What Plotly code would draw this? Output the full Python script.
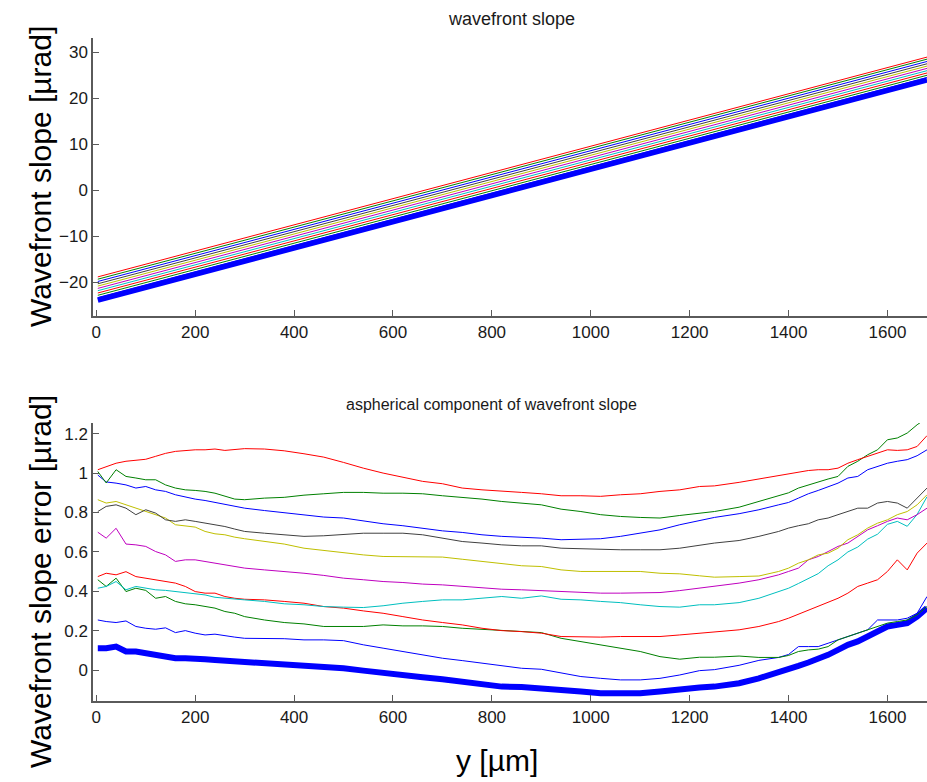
import plotly.graph_objects as go

# ---------------- data ----------------
# top panel: straight lines, value at start and end of the y range
TOP_X = [3, 1680]
TOP_B0 = [-23.85, 24.0]
TOP_B1 = [-23.3, 24.5]
TOP_G2 = [-22.8, 25.0]
TOP_R3 = [-22.3, 25.5]
TOP_C4 = [-21.8, 26.0]
TOP_M5 = [-21.3, 26.5]
TOP_Y6 = [-20.8, 27.0]
TOP_K7 = [-20.3, 27.5]
TOP_B8 = [-19.8, 28.0]
TOP_G9 = [-19.3, 28.5]
TOP_R10 = [-18.8, 28.95]

# bottom panel: aspherical component
X_UM = [3, 20, 40, 60, 80, 100, 120, 140, 160, 180, 200, 220, 240, 260, 280, 300,
        340, 380, 420, 460, 500, 540, 580, 620, 660, 700, 740, 780, 820,
        860, 900, 940, 980, 1020, 1060, 1100, 1140, 1180, 1220, 1250,
        1300, 1340, 1380, 1400, 1420, 1440, 1460, 1480, 1500, 1520, 1540,
        1560, 1580, 1600, 1620, 1640, 1660, 1680]

ASP_R10 = [1.017, 1.034, 1.05, 1.06, 1.064, 1.07, 1.085, 1.10, 1.11, 1.115, 1.118, 1.118, 1.122, 1.115, 1.118, 1.124,
           1.122, 1.113, 1.098, 1.081, 1.054, 1.025, 1.0, 0.98, 0.958, 0.946, 0.924, 0.915, 0.907,
           0.902, 0.895, 0.885, 0.885, 0.882, 0.89, 0.895, 0.907, 0.915, 0.932, 0.935,
           0.953, 0.97, 0.986, 0.995, 1.003, 1.013, 1.017, 1.017, 1.025, 1.05, 1.068,
           1.085, 1.10, 1.118, 1.115, 1.118, 1.135, 1.19]
ASP_G9 = [1.008, 0.95, 1.017, 0.983, 0.975, 0.966, 0.966, 0.94, 0.924, 0.915, 0.912, 0.907, 0.898, 0.882, 0.868, 0.865,
          0.873, 0.877, 0.888, 0.895, 0.902, 0.902, 0.898, 0.898, 0.895, 0.885, 0.877, 0.868, 0.856,
          0.848, 0.839, 0.817, 0.805, 0.789, 0.78, 0.775, 0.772, 0.785, 0.797, 0.805,
          0.827, 0.856, 0.885, 0.90, 0.924, 0.94, 0.958, 0.97, 0.983, 1.034, 1.06,
          1.093, 1.118, 1.169, 1.178, 1.203, 1.245, 1.28]
ASP_B8 = [0.99, 0.955, 0.949, 0.94, 0.924, 0.932, 0.915, 0.907, 0.89, 0.878, 0.868, 0.861, 0.851, 0.839, 0.831, 0.822,
          0.81, 0.80, 0.789, 0.777, 0.772, 0.758, 0.743, 0.733, 0.721, 0.707, 0.699, 0.687, 0.679,
          0.675, 0.67, 0.662, 0.665, 0.667, 0.679, 0.695, 0.712, 0.738, 0.758, 0.775,
          0.794, 0.814, 0.839, 0.851, 0.873, 0.895, 0.912, 0.932, 0.949, 0.975, 0.983,
          1.017, 1.034, 1.05, 1.06, 1.068, 1.088, 1.118]
ASP_K7 = [0.805, 0.831, 0.839, 0.822, 0.789, 0.814, 0.797, 0.763, 0.755, 0.763, 0.755, 0.746, 0.738, 0.729, 0.716, 0.704,
          0.695, 0.687, 0.679, 0.682, 0.69, 0.695, 0.695, 0.695, 0.687, 0.67, 0.653, 0.645, 0.636,
          0.631, 0.631, 0.619, 0.616, 0.611, 0.611, 0.611, 0.611, 0.619, 0.636, 0.645,
          0.658, 0.679, 0.704, 0.721, 0.733, 0.743, 0.763, 0.772, 0.789, 0.805, 0.822,
          0.822, 0.848, 0.856, 0.848, 0.822, 0.873, 0.924]
ASP_Y6 = [0.865, 0.848, 0.856, 0.839, 0.822, 0.805, 0.789, 0.772, 0.738, 0.733, 0.726, 0.704, 0.692, 0.687, 0.675, 0.667,
          0.653, 0.64, 0.619, 0.607, 0.597, 0.585, 0.577, 0.577, 0.577, 0.574, 0.563, 0.552, 0.54,
          0.53, 0.526, 0.509, 0.501, 0.501, 0.501, 0.501, 0.492, 0.489, 0.479, 0.472,
          0.475, 0.478, 0.501, 0.518, 0.543, 0.56, 0.585, 0.594, 0.619, 0.662, 0.687,
          0.721, 0.746, 0.763, 0.789, 0.805, 0.839, 0.89]
ASP_M5 = [0.70, 0.67, 0.72, 0.64, 0.636, 0.628, 0.602, 0.585, 0.552, 0.56, 0.56, 0.552, 0.543, 0.535, 0.526, 0.518,
          0.509, 0.501, 0.492, 0.481, 0.467, 0.459, 0.45, 0.445, 0.437, 0.433, 0.425, 0.416, 0.411,
          0.408, 0.404, 0.399, 0.394, 0.391, 0.391, 0.391, 0.394, 0.404, 0.416, 0.425,
          0.442, 0.459, 0.484, 0.501, 0.518, 0.56, 0.577, 0.602, 0.628, 0.645, 0.679,
          0.712, 0.733, 0.755, 0.772, 0.763, 0.789, 0.822]
ASP_C4 = [0.416, 0.425, 0.45, 0.408, 0.425, 0.416, 0.408, 0.405, 0.399, 0.394, 0.387, 0.382, 0.37, 0.365, 0.36, 0.357,
          0.349, 0.337, 0.332, 0.323, 0.32, 0.318, 0.327, 0.34, 0.349, 0.357, 0.357, 0.365, 0.374,
          0.365, 0.377, 0.36, 0.357, 0.349, 0.343, 0.332, 0.323, 0.32, 0.332, 0.332,
          0.343, 0.365, 0.399, 0.416, 0.44, 0.465, 0.49, 0.53, 0.56, 0.60, 0.625,
          0.665, 0.69, 0.74, 0.755, 0.73, 0.79, 0.88]
ASP_R3 = [0.475, 0.492, 0.484, 0.50, 0.475, 0.467, 0.459, 0.45, 0.442, 0.425, 0.399, 0.391, 0.391, 0.374, 0.365, 0.36,
          0.357, 0.349, 0.34, 0.323, 0.315, 0.301, 0.289, 0.272, 0.255, 0.242, 0.23, 0.213, 0.201,
          0.196, 0.188, 0.171, 0.168, 0.168, 0.171, 0.171, 0.171, 0.179, 0.188, 0.191,
          0.205, 0.222, 0.247, 0.264, 0.284, 0.306, 0.323, 0.343, 0.365, 0.391, 0.425,
          0.442, 0.459, 0.501, 0.56, 0.509, 0.594, 0.645]
ASP_G2 = [0.459, 0.425, 0.467, 0.399, 0.416, 0.405, 0.365, 0.374, 0.349, 0.337, 0.332, 0.323, 0.315, 0.298, 0.289, 0.272,
          0.255, 0.242, 0.235, 0.222, 0.222, 0.222, 0.23, 0.225, 0.225, 0.222, 0.213, 0.208, 0.201,
          0.196, 0.191, 0.162, 0.146, 0.129, 0.112, 0.095, 0.069, 0.056, 0.066, 0.066,
          0.072, 0.065, 0.065, 0.075, 0.095, 0.103, 0.107, 0.12, 0.154, 0.171, 0.188,
          0.205, 0.222, 0.239, 0.247, 0.255, 0.281, 0.323]
ASP_B1 = [0.255, 0.247, 0.242, 0.25, 0.222, 0.213, 0.208, 0.215, 0.191, 0.201, 0.188, 0.179, 0.183, 0.174, 0.168, 0.162,
          0.162, 0.16, 0.154, 0.154, 0.15, 0.129, 0.112, 0.095, 0.078, 0.061, 0.049, 0.036, 0.022,
          0.01, 0.005, -0.015, -0.032, -0.041, -0.049, -0.049, -0.041, -0.024, -0.002, 0.003,
          0.025, 0.05, 0.065, 0.08, 0.12, 0.12, 0.12, 0.137, 0.154, 0.171, 0.188,
          0.205, 0.255, 0.255, 0.255, 0.264, 0.289, 0.374]
ASP_B0 = [0.112, 0.112, 0.12, 0.095, 0.095, 0.086, 0.078, 0.069, 0.061, 0.061, 0.061, 0.056, 0.052, 0.049, 0.044, 0.039,
          0.036, 0.027, 0.019, 0.015, 0.01, -0.002, -0.015, -0.024, -0.036, -0.046, -0.058, -0.071, -0.083,
          -0.085, -0.091, -0.10, -0.108, -0.117, -0.12, -0.117, -0.108, -0.096, -0.088, -0.083,
          -0.066, -0.041, -0.012, 0.002, 0.022, 0.039, 0.056, 0.078, 0.103, 0.129, 0.146,
          0.171, 0.196, 0.222, 0.23, 0.239, 0.272, 0.315]

X_TICKS = [0, 200, 400, 600, 800, 1000, 1200, 1400, 1600]
TOP_Y_TICKS = [-20, -10, 0, 10, 20, 30]
BOT_Y_TICKS = [0, 0.2, 0.4, 0.6, 0.8, 1.0, 1.2]
BOT_Y_TICKTEXT = ["0", "0.2", "0.4", "0.6", "0.8", "1", "1.2"]

# ---------------- styling ----------------
BLUE = "#0000ff"
GREEN = "#008000"
RED = "#ff0000"
CYAN = "#00bfbf"
MAGENTA = "#bf00bf"
YELLOW = "#bfbf00"
DARK = "#404040"

top_series = [
    (TOP_B0, BLUE, 5.5), (TOP_B1, BLUE, 1), (TOP_G2, GREEN, 1), (TOP_R3, RED, 1),
    (TOP_C4, CYAN, 1), (TOP_M5, MAGENTA, 1), (TOP_Y6, YELLOW, 1), (TOP_K7, DARK, 1),
    (TOP_B8, BLUE, 1), (TOP_G9, GREEN, 1), (TOP_R10, RED, 1),
]
bot_series = [
    (ASP_B0, BLUE, 6), (ASP_B1, BLUE, 1), (ASP_G2, GREEN, 1), (ASP_R3, RED, 1),
    (ASP_C4, CYAN, 1), (ASP_M5, MAGENTA, 1), (ASP_Y6, YELLOW, 1), (ASP_K7, DARK, 1),
    (ASP_B8, BLUE, 1), (ASP_G9, GREEN, 1), (ASP_R10, RED, 1),
]

W, H = 927, 782
FONT = "Liberation Sans, Arial, Helvetica, sans-serif"

fig = go.Figure()
for ys, c, w in top_series:
    fig.add_trace(go.Scatter(x=TOP_X, y=ys, mode="lines", line=dict(color=c, width=w),
                             xaxis="x", yaxis="y", showlegend=False, hoverinfo="skip"))
for ys, c, w in bot_series:
    fig.add_trace(go.Scatter(x=X_UM, y=ys, mode="lines", line=dict(color=c, width=w),
                             xaxis="x2", yaxis="y2", showlegend=False, hoverinfo="skip"))


def px_x(p):
    return p / W


def px_y(p):
    return 1 - p / H


axis_common = dict(
    showline=True, linecolor="#5a5a5a", linewidth=1.5, mirror=False,
    ticks="inside", ticklen=6, tickwidth=1, tickcolor="#5a5a5a",
    showgrid=False, zeroline=False,
    tickfont=dict(family=FONT, size=17, color="#1a1a1a"),
)

fig.update_layout(
    width=W, height=H,
    margin=dict(l=0, r=0, t=0, b=0),
    paper_bgcolor="white", plot_bgcolor="white",
    xaxis=dict(domain=[px_x(93), 1], range=[-6.7, 1680], anchor="y",
               tickvals=X_TICKS, **axis_common),
    yaxis=dict(domain=[px_y(316), px_y(38)], range=[-27.3, 33.1], anchor="x",
               tickvals=TOP_Y_TICKS, **axis_common),
    xaxis2=dict(domain=[px_x(93), 1], range=[-6.7, 1680], anchor="y2",
                tickvals=X_TICKS, **axis_common),
    yaxis2=dict(domain=[px_y(701), px_y(423)], range=[-0.156, 1.254], anchor="x2",
                tickvals=BOT_Y_TICKS, ticktext=BOT_Y_TICKTEXT, **axis_common),
    annotations=[
        dict(text="wavefront slope", x=px_x(512), y=px_y(19), xref="paper", yref="paper",
             xanchor="center", yanchor="middle", showarrow=False,
             font=dict(family=FONT, size=18, color="#1a1a1a")),
        dict(text="aspherical component of wavefront slope", x=px_x(491), y=px_y(404),
             xref="paper", yref="paper", xanchor="center", yanchor="middle", showarrow=False,
             font=dict(family=FONT, size=16, color="#1a1a1a")),
        dict(text="Wavefront slope [µrad]", x=px_x(40), y=px_y(177), xref="paper", yref="paper",
             xanchor="center", yanchor="middle", showarrow=False, textangle=-90,
             font=dict(family=FONT, size=30, color="black")),
        dict(text="Wavefront slope error [µrad]", x=px_x(40), y=px_y(582), xref="paper", yref="paper",
             xanchor="center", yanchor="middle", showarrow=False, textangle=-90,
             font=dict(family=FONT, size=30, color="black")),
        dict(text="y [µm]", x=px_x(497), y=px_y(760), xref="paper", yref="paper",
             xanchor="center", yanchor="middle", showarrow=False,
             font=dict(family=FONT, size=30, color="black")),
    ],
)

fig.write_html("out.html")
